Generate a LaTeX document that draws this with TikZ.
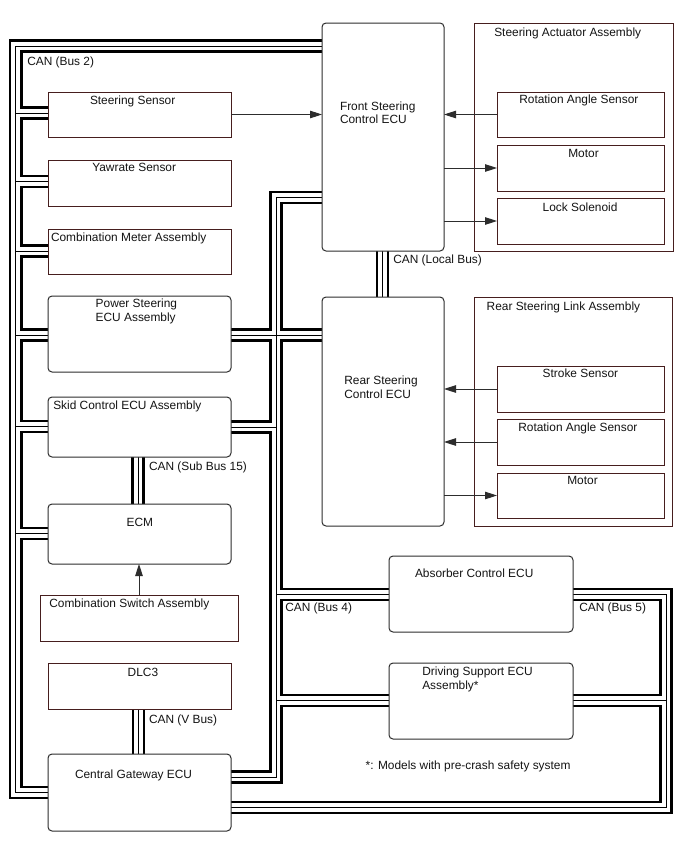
\documentclass[tikz,border=0pt]{standalone}
\usepackage{fontspec}
\setmainfont{Liberation Sans}
\usetikzlibrary{arrows.meta}
\definecolor{brn}{RGB}{70,30,30}
\definecolor{rbd}{RGB}{45,45,45}
\definecolor{txt}{RGB}{20,20,20}
\pgfdeclarelayer{bg}
\pgfsetlayers{bg,main}
\newcommand\busnet[1]{%
  % CAN (Bus 2)
  \draw[#1] (fsc.west |- b2tl) -- (b2tl) -- (b2bl) -- (b2bl -| cg.west);
  \draw[#1] (j1) -- (j1 -| ss.west);
  \draw[#1] (j2) -- (j2 -| ys.west);
  \draw[#1] (j3) -- (j3 -| cm.west);
  \draw[#1] (j4) -- (j4 -| ps.west);
  \draw[#1] (j5) -- (j5 -| sk.west);
  \draw[#1] (j6) -- (j6 -| ecm.west);
  % CAN (Bus 4)
  \draw[#1] (fsc.west |- b4t) -- (b4t) -- (b4b) -- (b4b -| cg.east);
  \draw[#1] (b4x -| ps.east) -- (b4x -| rsc.west);
  \draw[#1] (b4s -| sk.east) -- (b4s);
  \draw[#1] (b4a) -- (b4a -| abs.west);
  \draw[#1] (b4d) -- (b4d -| dsu.west);
  % CAN (Bus 5)
  \draw[#1] (b5t -| abs.east) -- (b5t) -- (b5b) -- (b5b -| cg.east);
  \draw[#1] (b5d -| dsu.east) -- (b5d);
  % Local, Sub Bus 15, V Bus
  \draw[#1] (lbx |- fsc.south) -- (lbx |- rsc.north);
  \draw[#1] (sbx |- sk.south) -- (sbx |- ecm.north);
  \draw[#1] (vbx |- dlc.south) -- (vbx |- cg.north);
}
\begin{document}
\begin{tikzpicture}[x=1pt,y=-1pt,
  sbox/.style={draw=brn, line width=1pt, fill=white, anchor=north west, inner sep=0pt, outer sep=0pt},
  rbox/.style={draw=rbd, line width=1pt, fill=white, rounded corners=4pt, anchor=north west, inner sep=0pt, outer sep=0pt},
  lbl/.style={anchor=base west, inner sep=0pt, outer sep=0pt, font=\fontsize{11.9}{14}\selectfont, text=txt},
  arr/.style={line width=0.9pt, draw=rbd, -{Triangle[length=12pt,width=7.5pt]}},
  busA/.style={line width=13.5pt, black, line join=miter, line cap=butt},
  busB/.style={line width=8.7pt, white, line join=miter, line cap=butt},
  busC/.style={line width=0.9pt, black, line join=miter, line cap=butt},
]
\useasboundingbox (0,0) rectangle (688,852);

% left column
\node[sbox, minimum width=183pt, minimum height=45pt] (ss) at (48,92) {};
\node[sbox, minimum width=183pt, minimum height=46pt] (ys) at (48,160) {};
\node[sbox, minimum width=183pt, minimum height=45pt] (cm) at (48,229) {};
\node[rbox, minimum width=183pt, minimum height=76pt] (ps) at (48,296) {};
\node[rbox, minimum width=183pt, minimum height=60pt] (sk) at (48,397) {};
\node[rbox, minimum width=183pt, minimum height=60pt] (ecm) at (48,504) {};
\node[sbox, minimum width=198pt, minimum height=46pt] (csw) at (40,595) {};
\node[sbox, minimum width=183pt, minimum height=46pt] (dlc) at (48,663) {};
\node[rbox, minimum width=183pt, minimum height=77pt] (cg) at (48,754) {};
% middle column
\node[rbox, minimum width=122pt, minimum height=228pt] (fsc) at (322,23) {};
\node[rbox, minimum width=122pt, minimum height=229pt] (rsc) at (322,297) {};
\node[rbox, minimum width=184pt, minimum height=76pt] (abs) at (389,556) {};
\node[rbox, minimum width=184pt, minimum height=76pt] (dsu) at (389,663) {};
% right assemblies
\node[sbox, minimum width=199pt, minimum height=228pt] (saa) at (474,23) {};
\node[sbox, minimum width=167pt, minimum height=45pt] (ras1) at (497,92) {};
\node[sbox, minimum width=167pt, minimum height=46pt] (mot1) at (497,145) {};
\node[sbox, minimum width=167pt, minimum height=46pt] (lso) at (497,198) {};
\node[sbox, minimum width=198pt, minimum height=229pt] (rsl) at (474,297) {};
\node[sbox, minimum width=167pt, minimum height=46pt] (stk) at (497,366) {};
\node[sbox, minimum width=167pt, minimum height=46pt] (ras2) at (497,419) {};
\node[sbox, minimum width=167pt, minimum height=45pt] (mot2) at (497,473) {};

% bus coordinates
\coordinate (b2tl) at (15.75,46);
\coordinate (b2bl) at (15.75,792.5);
\coordinate (j1) at (15.75,113);
\coordinate (j2) at (15.75,181.5);
\coordinate (j3) at (15.75,251);
\coordinate (j4) at (15.75,335);
\coordinate (j5) at (15.75,426.5);
\coordinate (j6) at (15.75,533.5);
\coordinate (b4t) at (276,197.5);
\coordinate (b4b) at (276,777);
\coordinate (b4x) at (276,335);
\coordinate (b4s) at (276,427);
\coordinate (b4a) at (276,594.5);
\coordinate (b4d) at (276,700.5);
\coordinate (b5t) at (666,594.5);
\coordinate (b5b) at (666,807.5);
\coordinate (b5d) at (666,700.5);
\coordinate (lbx) at (382.5,270);
\coordinate (sbx) at (138,480);
\coordinate (vbx) at (138.5,730);

\begin{pgfonlayer}{bg}
  \fill[white] (0,0) rectangle (688,852);
  \busnet{busA}
  \busnet{busB}
  \busnet{busC}
\end{pgfonlayer}

% arrows
\draw[arr] (ss.east) -- (ss.east -| fsc.west);
\draw[arr] (ras1.west) -- (ras1.west -| fsc.east);
\draw[arr] (mot1.west -| fsc.east) -- (mot1.west);
\draw[arr] (lso.west -| fsc.east) -- (lso.west);
\draw[arr] (stk.west) -- (stk.west -| rsc.east);
\draw[arr] (ras2.west) -- (ras2.west -| rsc.east);
\draw[arr] (mot2.west -| rsc.east) -- (mot2.west);
\draw[arr] (csw.north) -- (csw.north |- ecm.south);

% labels
\node[lbl] (lcan2) at (27.3,65.5) {CAN (Bus 2)};
\node[lbl] (lss) at (90,104) {Steering Sensor};
\node[lbl] (lys) at (92.3,171.5) {Yawrate Sensor};
\node[lbl] (lcm) at (51,241) {Combination Meter Assembly};
\node[lbl] (lps1) at (95.7,307.3) {Power Steering};
\node[lbl] (lps2) at (95.7,321.5) {ECU Assembly};
\node[lbl] (lsk) at (53.3,409.3) {Skid Control ECU Assembly};
\node[lbl] (lsub) at (149,470) {CAN (Sub Bus 15)};
\node[lbl] (lecm) at (126.7,526) {ECM};
\node[lbl] (lcsw) at (49.3,607.7) {Combination Switch Assembly};
\node[lbl] (ldlc) at (127.7,676.7) {DLC3};
\node[lbl] (lvbus) at (149,723.3) {CAN (V Bus)};
\node[lbl] (lcg) at (75,778.3) {Central Gateway ECU};
\node[lbl] (labs) at (415,577.7) {Absorber Control ECU};
\node[lbl] (lb4) at (285.3,611.7) {CAN (Bus 4)};
\node[lbl] (lb5) at (579.3,611.7) {CAN (Bus 5)};
\node[lbl] (ldsu1) at (422.3,675) {Driving Support ECU};
\node[lbl] (ldsu2) at (422.3,689) {Assembly*};
\node[lbl] (lnote) at (365.7,769) {*: Models with pre-crash safety system};
\node[lbl] (lsaa) at (494.3,36.7) {Steering Actuator Assembly};
\node[lbl] (lfsc1) at (340,110) {Front Steering};
\node[lbl] (lfsc2) at (340,123.3) {Control ECU};
\node[lbl] (lras1) at (519.3,103.3) {Rotation Angle Sensor};
\node[lbl] (lmot1) at (568.3,157.7) {Motor};
\node[lbl] (llso) at (542.7,211.7) {Lock Solenoid};
\node[lbl] (llocal) at (393.3,263.3) {CAN (Local Bus)};
\node[lbl] (lrsl) at (486.7,310.7) {Rear Steering Link Assembly};
\node[lbl] (lrsc1) at (344.3,384.3) {Rear Steering};
\node[lbl] (lrsc2) at (344.3,398.3) {Control ECU};
\node[lbl] (lstk) at (542.7,377.3) {Stroke Sensor};
\node[lbl] (lras2) at (518.3,431.7) {Rotation Angle Sensor};
\node[lbl] (lmot2) at (567.3,484.3) {Motor};
\end{tikzpicture}
\end{document}
